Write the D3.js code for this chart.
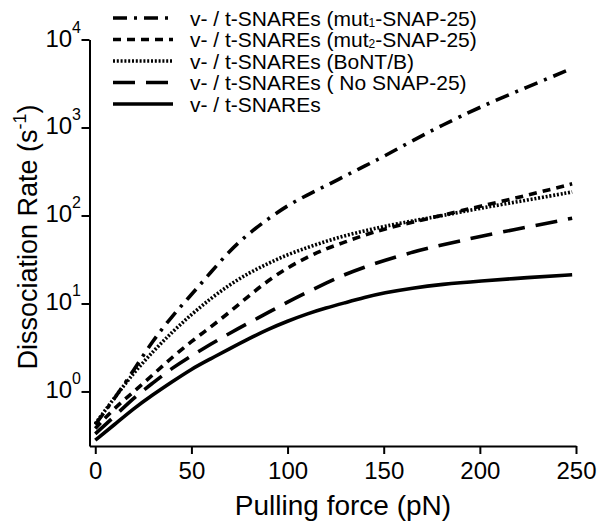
<!DOCTYPE html>
<html>
<head>
<meta charset="utf-8">
<script src="https://cdn.jsdelivr.net/npm/d3@7"></script>
<style>
  html, body { margin: 0; padding: 0; background: #fff; }
  svg { display: block; font-family: "Liberation Sans", Arial, sans-serif; }
</style>
</head>
<body>
<svg id="chart" width="601" height="528"></svg>
<script>
// ---- data ----
const force = [0, 10, 20, 30, 40, 50, 60, 70, 80, 90, 100, 110, 120, 130, 140, 150, 165, 180, 200, 225, 248];
const mut1Rate   = [0.42, 0.83, 1.75, 3.8, 7.2, 12.6, 22.5, 40, 63, 92, 130, 170, 218, 282, 363, 468, 710, 1050, 1710, 2900, 4700];
const mut2Rate   = [0.38, 0.65, 0.99, 1.55, 2.45, 3.7, 5.4, 8.0, 12.3, 18.3, 25.5, 33.5, 42, 50, 60, 70, 84, 100, 127, 170, 229];
const bontRate   = [0.43, 0.85, 1.63, 2.84, 4.74, 7.5, 11.4, 16.4, 22.3, 28.6, 36, 43, 51, 59, 67, 75, 87, 99, 121, 150, 185];
const noSnapRate = [0.33, 0.52, 0.85, 1.25, 1.85, 2.55, 3.44, 4.6, 6.05, 7.9, 10.4, 13.4, 17, 21.5, 25.9, 30.7, 38.5, 46, 58, 74, 93];
const wtRate     = [0.28, 0.42, 0.64, 0.92, 1.29, 1.80, 2.35, 3.07, 4.0, 5.1, 6.3, 7.6, 8.9, 10.2, 11.7, 13.2, 15.0, 16.5, 18.0, 19.7, 21.2];

const seriesNames = ["mut1", "mut2", "BoNT/B", "No SNAP-25", "wt"];
const xTicks = [0, 50, 100, 150, 200, 250];
const yTickExponents = [0, 1, 2, 3, 4];
const xTitle = "Pulling force (pN)";

const series = [
  { key: "mut1", values: mut1Rate, dash: "14,7,3,7", legend: ["v- / t-SNAREs (mut", "1", "-SNAP-25)"] },
  { key: "mut2", values: mut2Rate, dash: "8,6", legend: ["v- / t-SNAREs (mut", "2", "-SNAP-25)"] },
  { key: "BoNT/B", values: bontRate, dash: "2,1.8", legend: ["v- / t-SNAREs (BoNT/B)"] },
  { key: "No SNAP-25", values: noSnapRate, dash: "22,11", legend: ["v- / t-SNAREs ( No SNAP-25)"] },
  { key: "wt", values: wtRate, dash: null, legend: ["v- / t-SNAREs"] }
];

// ---- layout ----
const svg = d3.select("#chart");
const x = d3.scaleLinear().domain([-3, 250]).range([89.5, 576]);
const y = d3.scaleLog().domain([0.24, 1e4]).range([446, 39.5]);

// axes
const xAxis = svg.append("g")
  .attr("transform", `translate(0,${y.range()[0]})`)
  .call(d3.axisBottom(x).tickValues(xTicks).tickSize(8).tickSizeOuter(0).tickPadding(8));
xAxis.selectAll("text").attr("font-size", 24).attr("fill", "#000")
  .attr("font-family", "Liberation Sans, Arial, sans-serif");
xAxis.select(".domain").attr("stroke-width", 2);
xAxis.selectAll(".tick line").attr("stroke-width", 2);

const yAxis = svg.append("g")
  .attr("transform", `translate(${x.range()[0]},0)`)
  .call(d3.axisLeft(y).tickValues(yTickExponents.map(e => Math.pow(10, e))).tickSize(8).tickSizeOuter(0).tickFormat(""));
yAxis.select(".domain").attr("stroke-width", 2);
yAxis.selectAll(".tick line").attr("stroke-width", 2);

const yLab = svg.append("g");
yTickExponents.forEach(e => {
  const t = yLab.append("text")
    .attr("x", 81)
    .attr("y", y(Math.pow(10, e)) + 7)
    .attr("text-anchor", "end")
    .attr("font-size", 24)
    .attr("fill", "#000");
  t.append("tspan").text("10");
  t.append("tspan").attr("font-size", 16).attr("dy", -14).text(String(e));
});

// titles
svg.append("text")
  .attr("x", 343)
  .attr("y", 515)
  .attr("text-anchor", "middle")
  .attr("font-size", 28)
  .attr("fill", "#000")
  .text(xTitle);

const yt = svg.append("text")
  .attr("transform", "translate(37,237) rotate(-90)")
  .attr("text-anchor", "middle")
  .attr("font-size", 27)
  .attr("fill", "#000");
yt.append("tspan").text("Dissociation Rate (s");
yt.append("tspan").attr("font-size", 18).attr("dy", -11).text("-1");
yt.append("tspan").attr("dy", 11).text(")");

// curves
const line = d3.line()
  .x((d, i) => x(force[i]))
  .y(d => y(d))
  .curve(d3.curveBasis);

series.forEach(s => {
  svg.append("path")
    .datum(s.values)
    .attr("d", line)
    .attr("fill", "none")
    .attr("stroke", "#000")
    .attr("stroke-width", 3.6)
    .attr("stroke-dasharray", s.dash);
});

// legend
const legend = svg.append("g");
series.forEach((s, i) => {
  const cy = 18 + i * 21.5;
  legend.append("line")
    .attr("x1", 113).attr("x2", 173)
    .attr("y1", cy).attr("y2", cy)
    .attr("stroke", "#000")
    .attr("stroke-width", 3.6)
    .attr("stroke-dasharray", s.dash);
  const t = legend.append("text")
    .attr("x", 190)
    .attr("y", cy + 7.5)
    .attr("font-size", 21)
    .attr("fill", "#000");
  t.append("tspan").text(s.legend[0]);
  if (s.legend.length > 1) {
    t.append("tspan").attr("font-size", 12).attr("dy", 1).text(s.legend[1]);
    t.append("tspan").attr("dy", -1).text(s.legend[2]);
  }
});
</script>
</body>
</html>
